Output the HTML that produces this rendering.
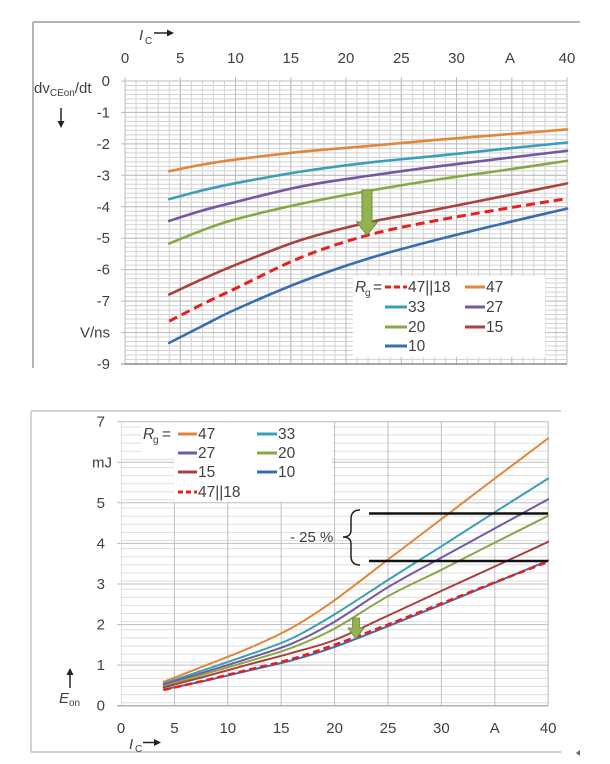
<!DOCTYPE html>
<html><head><meta charset="utf-8"><style>
html,body{margin:0;padding:0;background:#fff;}
svg{display:block;}
text{font-family:"Liberation Sans",Arial,sans-serif;fill:#404040;}
</style></head><body>
<svg id="s" width="610" height="764" viewBox="0 0 610 764" xmlns="http://www.w3.org/2000/svg">
<defs>
<pattern id="g1" x="124.5" y="80.5" width="11.05" height="4.4914" patternUnits="userSpaceOnUse">
<path d="M0 0.5H11.05M0.5 0V4.4914" stroke="#d2d2d2" stroke-width="1" fill="none"/>
</pattern>
<pattern id="g2" x="120.5" y="4.5" width="53.4" height="8.114" patternUnits="userSpaceOnUse">
<path d="M0 0.5H53.4" stroke="#dcdcdc" stroke-width="1" fill="none"/>
<path d="M0.5 0V8.114" stroke="#c0c0c0" stroke-width="1" fill="none"/>
</pattern>
</defs>
<rect width="610" height="764" fill="#fff"/>

<!-- ===== TOP CHART ===== -->
<path d="M33 22H580M33 22V368" stroke="#b4b4b4" stroke-width="2" fill="none"/>
<rect x="125" y="81" width="442" height="283" fill="url(#g1)"/>
<g stroke="#bdbdbd" stroke-width="1">
<path d="M121 81H567M121 112.4H567M121 143.9H567M121 175.3H567M121 206.8H567M121 238.2H567M121 269.6H567M121 301.1H567M121 332.5H567"/>
<path d="M125 77V364M180.3 77V364M235.5 77V364M290.8 77V364M346 77V364M401.3 77V364M456.5 77V364M511.8 77V364M567 77V364"/>
</g>
<path d="M125 364H567" stroke="#8a8a8a" stroke-width="1.5"/>
<path d="M121 364H125" stroke="#8a8a8a" stroke-width="1"/>

<!-- top legend bg -->
<rect x="353" y="276" width="192" height="81" fill="#fff"/>

<!-- top series -->
<g fill="none" stroke-width="2.6" stroke-linejoin="round" stroke-linecap="round">
<polyline class="sm" stroke="#e0873a" points="169.2,171.2 202.4,164.6 235.5,159.6 301.8,151.7 368.1,146.1 434.4,140.1 500.7,134.8 567,129.4"/>
<polyline class="sm" stroke="#3c9fb8" points="169.2,199.2 202.4,190.4 235.5,183.2 301.8,171.5 368.1,162.7 434.4,156.1 500.7,149.2 567,142.6"/>
<polyline class="sm" stroke="#7559a0" points="169.2,220.9 202.4,210.5 235.5,202.0 301.8,186.3 368.1,175.9 434.4,166.8 500.7,158.7 567,150.8"/>
<polyline class="sm" stroke="#87a845" points="169.2,243.5 202.4,230.3 235.5,219.3 301.8,203.6 368.1,191.0 434.4,180.0 500.7,170.6 567,160.9"/>
<polyline class="sm" stroke="#a8413f" points="169.2,294.5 202.4,279.1 235.5,264.9 301.8,239.8 368.1,222.5 434.4,209.9 500.7,196.7 567,183.5"/>
<polyline class="sm" stroke="#3a6db0" points="169.2,342.9 202.4,326 235.5,309.5 301.8,281.5 368.1,258.6 434.4,240.4 500.7,224.1 567,208.6"/>
<polyline class="sm" stroke="#e8201c" stroke-width="3" stroke-dasharray="9 5" stroke-linecap="butt" points="169.2,321.2 202.4,304.2 235.5,288.5 301.8,257.1 368.1,235.1 434.4,220.9 500.7,209.3 567,198.6"/>
</g>
<!-- top arrow -->
<path d="M362 190H372V222H377.5L367 235L356.5 222H362Z" fill="#92b350" stroke="#6f8c3a" stroke-width="1"/>

<!-- top labels -->
<g font-size="15">
<text x="125" y="63" text-anchor="middle">0</text>
<text x="180.3" y="63" text-anchor="middle">5</text>
<text x="235.5" y="63" text-anchor="middle">10</text>
<text x="290.8" y="63" text-anchor="middle">15</text>
<text x="346" y="63" text-anchor="middle">20</text>
<text x="401.3" y="63" text-anchor="middle">25</text>
<text x="456.5" y="63" text-anchor="middle">30</text>
<text x="510" y="63" text-anchor="middle">A</text>
<text x="567" y="63" text-anchor="middle">40</text>
<text x="110" y="86" text-anchor="end">0</text>
<text x="110" y="117.4" text-anchor="end">-1</text>
<text x="110" y="148.9" text-anchor="end">-2</text>
<text x="110" y="180.3" text-anchor="end">-3</text>
<text x="110" y="211.8" text-anchor="end">-4</text>
<text x="110" y="243.2" text-anchor="end">-5</text>
<text x="110" y="274.6" text-anchor="end">-6</text>
<text x="110" y="306.1" text-anchor="end">-7</text>
<text x="110" y="337.5" text-anchor="end">V/ns</text>
<text x="110" y="369" text-anchor="end">-9</text>
<text x="34" y="93">dv<tspan font-size="10" dy="3">CEon</tspan><tspan dy="-3">/dt</tspan></text>
<text x="139" y="40" font-style="italic">I</text>
<text x="145" y="44" font-size="10">C</text>
</g>
<path d="M154 33H168" stroke="#222" stroke-width="1.5"/>
<path d="M167 29.5L174 33L167 36.5Z" fill="#222"/>
<path d="M61 108V122" stroke="#222" stroke-width="1.5"/>
<path d="M57.5 121L61 128L64.5 121Z" fill="#222"/>

<!-- top legend -->
<g font-size="15.5">
<text x="355" y="292" font-style="italic">R</text><text x="365" y="296" font-size="10">g</text><text x="373" y="292">=</text>
<path d="M385 287H407" stroke="#e8201c" stroke-width="3" stroke-dasharray="6 3"/>
<text x="408" y="292">47||18</text>
<path d="M465 287H485" stroke="#e0873a" stroke-width="3"/><text x="486" y="292">47</text>
<path d="M385 307H407" stroke="#3c9fb8" stroke-width="3"/><text x="408" y="312">33</text>
<path d="M465 307H485" stroke="#7559a0" stroke-width="3"/><text x="486" y="312">27</text>
<path d="M385 327H407" stroke="#87a845" stroke-width="3"/><text x="408" y="332">20</text>
<path d="M465 327H485" stroke="#a8413f" stroke-width="3"/><text x="486" y="332">15</text>
<path d="M385 346H407" stroke="#3a6db0" stroke-width="3"/><text x="408" y="351">10</text>
</g>

<!-- ===== BOTTOM CHART ===== -->
<path d="M31 411H561M31 411V752M31 752H561" stroke="#c4c4c4" stroke-width="1.5" fill="none"/>
<rect x="121" y="421.7" width="427.2" height="284" fill="url(#g2)"/>
<g stroke="#bdbdbd" stroke-width="1">
<path d="M117 421.7H548.2M117 462.3H548.2M117 502.8H548.2M117 543.4H548.2M117 584H548.2M117 624.6H548.2M117 665.1H548.2"/>
<path d="M548.2 421.7V705.7"/>
</g>
<path d="M117 705.7H548.2" stroke="#b0b0b0" stroke-width="1.5"/>

<!-- bottom legend bg -->
<rect x="174" y="422.5" width="158" height="79.5" fill="#fff"/>
<rect x="141" y="422.5" width="34" height="30" fill="#fff"/>

<!-- bottom series -->
<g fill="none" stroke-width="2" stroke-linejoin="round" stroke-linecap="round">
<polyline class="sm" stroke="#e0873a" points="163.7,681.8 206.4,665.1 249.2,648.1 291.9,627.8 334.6,600.2 388,559.6 441.4,519.1 494.8,478.5 548.2,438.3"/>
<polyline class="sm" stroke="#3c9fb8" points="163.7,683.4 206.4,669.2 249.2,654.6 291.9,638.4 334.6,614.4 388,579.9 441.4,546.3 494.8,512.2 548.2,478.5"/>
<polyline class="sm" stroke="#7559a0" points="163.7,684.6 206.4,671.6 249.2,658.2 291.9,643.6 334.6,621.7 388,587.2 441.4,557.6 494.8,528.4 548.2,499.2"/>
<polyline class="sm" stroke="#87a845" points="163.7,686.2 206.4,673.6 249.2,661.1 291.9,647.7 334.6,628.6 388,596.2 441.4,569.8 494.8,542.6 548.2,515.8"/>
<polyline class="sm" stroke="#a8413f" points="163.7,687.4 206.4,676.1 249.2,664.3 291.9,652.9 334.6,640.0 388,615.6 441.4,590.9 494.8,566.5 548.2,541.8"/>
<polyline class="sm" stroke="#3a6db0" points="163.7,689.5 206.4,680.5 249.2,670.4 291.9,660.3 334.6,646.9 388,626.2 441.4,604.7 494.8,582.8 548.2,560.5"/>
<polyline class="sm" stroke="#e8201c" stroke-width="2.6" stroke-dasharray="7 4" stroke-linecap="butt" points="163.7,689.9 206.4,680.1 249.2,669.6 291.9,659.0 334.6,644.8 388,624.6 441.4,603.5 494.8,582.4 548.2,561.7"/>
</g>
<!-- bottom arrow -->
<path d="M352.5 618H359.5V628H364L356 639L348 628H352.5Z" fill="#92b350" stroke="#6f8c3a" stroke-width="0.8"/>

<!-- -25% annotation -->
<path d="M369 513.5H548M369 561H548" stroke="#111" stroke-width="2.6"/>
<path d="M360 510Q351 510 351 519V530Q351 537 343 537Q351 537 351 544V556Q351 565 360 565" stroke="#222" stroke-width="1.5" fill="none"/>
<text x="290" y="542" font-size="15">- 25 %</text>

<!-- bottom labels -->
<g font-size="15">
<text x="121" y="733" text-anchor="middle">0</text>
<text x="174.4" y="733" text-anchor="middle">5</text>
<text x="227.8" y="733" text-anchor="middle">10</text>
<text x="281.2" y="733" text-anchor="middle">15</text>
<text x="334.6" y="733" text-anchor="middle">20</text>
<text x="388" y="733" text-anchor="middle">25</text>
<text x="441.4" y="733" text-anchor="middle">30</text>
<text x="494.8" y="733" text-anchor="middle">A</text>
<text x="548.2" y="733" text-anchor="middle">40</text>
<text x="105" y="426.7" text-anchor="end">7</text>
<text x="112" y="467.3" text-anchor="end">mJ</text>
<text x="105" y="507.8" text-anchor="end">5</text>
<text x="105" y="548.4" text-anchor="end">4</text>
<text x="105" y="589" text-anchor="end">3</text>
<text x="105" y="629.6" text-anchor="end">2</text>
<text x="105" y="670.1" text-anchor="end">1</text>
<text x="105" y="710.7" text-anchor="end">0</text>
<text x="59" y="703" font-style="italic">E</text>
<text x="69" y="706" font-size="10">on</text>
<text x="129" y="749" font-style="italic">I</text>
<text x="135" y="752" font-size="10">C</text>
</g>
<path d="M70 688V674" stroke="#222" stroke-width="1.5"/>
<path d="M66.5 675L70 668L73.5 675Z" fill="#222"/>
<path d="M143 742.5H155" stroke="#222" stroke-width="1.5"/>
<path d="M154 739L161 742.5L154 746Z" fill="#222"/>

<!-- bottom legend -->
<g font-size="15.5">
<text x="143" y="439" font-style="italic">R</text><text x="153" y="443" font-size="10">g</text><text x="162" y="439" fill="#888">=</text>
<path d="M178 434H197" stroke="#e0873a" stroke-width="3"/><text x="198" y="439">47</text>
<path d="M257 434H277" stroke="#3c9fb8" stroke-width="3"/><text x="278" y="439">33</text>
<path d="M178 453H197" stroke="#7559a0" stroke-width="3"/><text x="198" y="458">27</text>
<path d="M257 453H277" stroke="#87a845" stroke-width="3"/><text x="278" y="458">20</text>
<path d="M178 472H197" stroke="#a8413f" stroke-width="3"/><text x="198" y="477">15</text>
<path d="M257 472H277" stroke="#3a6db0" stroke-width="3"/><text x="278" y="477">10</text>
<path d="M178 492H197" stroke="#e8201c" stroke-width="3" stroke-dasharray="5 3"/><text x="198" y="497">47||18</text>
</g>
<path d="M576 753L580 750V756Z" fill="#666"/>
</svg>
<script>
(function(){
  var NS="http://www.w3.org/2000/svg";
  var pls=document.querySelectorAll("polyline.sm");
  for(var i=0;i<pls.length;i++){
    var pl=pls[i];
    var pts=pl.getAttribute("points").trim().split(/\s+/).map(function(s){var a=s.split(",");return [parseFloat(a[0]),parseFloat(a[1])];});
    var d="M"+pts[0][0]+" "+pts[0][1];
    for(var j=0;j<pts.length-1;j++){
      var p0=pts[j>0?j-1:j],p1=pts[j],p2=pts[j+1],p3=pts[j+2<pts.length?j+2:j+1];
      var c1x=p1[0]+(p2[0]-p0[0])/6,c1y=p1[1]+(p2[1]-p0[1])/6;
      var c2x=p2[0]-(p3[0]-p1[0])/6,c2y=p2[1]-(p3[1]-p1[1])/6;
      d+="C"+c1x.toFixed(2)+" "+c1y.toFixed(2)+" "+c2x.toFixed(2)+" "+c2y.toFixed(2)+" "+p2[0]+" "+p2[1];
    }
    var path=document.createElementNS(NS,"path");
    for(var k=0;k<pl.attributes.length;k++){
      var at=pl.attributes[k];
      if(at.name!=="points"&&at.name!=="class")path.setAttribute(at.name,at.value);
    }
    path.setAttribute("d",d);
    pl.parentNode.replaceChild(path,pl);
  }
})();
</script>
</body></html>
